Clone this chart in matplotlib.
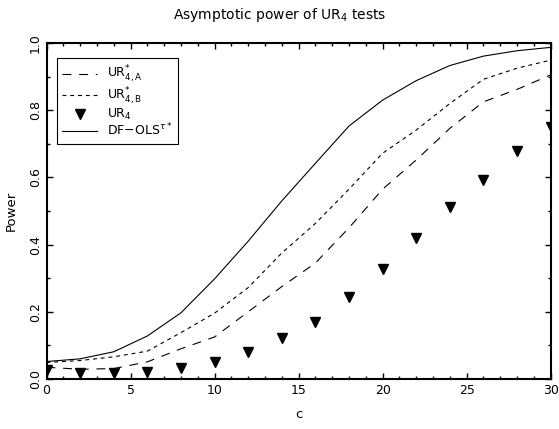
import matplotlib
matplotlib.use("Agg")
import matplotlib.pyplot as plt
from matplotlib.ticker import MultipleLocator, FormatStrFormatter

plt.rcParams['font.family'] = ['DejaVu Sans']
plt.rcParams['mathtext.fontset'] = 'dejavusans'

c = [0, 2, 4, 6, 8, 10, 12, 14, 16, 18, 20, 22, 24, 26, 28, 30]
ur4a = [0.035, 0.029, 0.031, 0.051, 0.090, 0.125, 0.200, 0.275, 0.345, 0.450, 0.565, 0.652, 0.746, 0.825, 0.862, 0.905]
ur4b = [0.049, 0.055, 0.066, 0.083, 0.138, 0.196, 0.272, 0.375, 0.463, 0.565, 0.672, 0.741, 0.820, 0.892, 0.925, 0.949]
ur4 = [0.028, 0.019, 0.019, 0.022, 0.034, 0.052, 0.081, 0.123, 0.170, 0.244, 0.327, 0.420, 0.511, 0.592, 0.678, 0.751]
dfols = [0.052, 0.060, 0.081, 0.128, 0.197, 0.298, 0.410, 0.530, 0.642, 0.753, 0.830, 0.888, 0.933, 0.961, 0.977, 0.987]

fig = plt.figure(figsize=(5.59, 4.29), dpi=100)
ax = fig.add_axes([46.5/559, 1-379/429, 504.2/559, 336/429])

lw = 0.8
ax.plot(c, ur4a, color='black', lw=lw, dashes=(8, 7), label=r'UR$^{*}_{4,\mathrm{A}}$')
ax.plot(c, ur4b, color='black', lw=lw, dashes=(3.5, 3.5), label=r'UR$^{*}_{4,\mathrm{B}}$')
ax.plot(c, ur4, linestyle='none', marker='v', color='black', markersize=7, label=r'UR$_4$')
ax.plot(c, dfols, color='black', lw=lw, label=r'DF$-$OLS$^{\tau*}$')

ax.set_xlim(0, 30)
ax.set_ylim(0, 1)
ax.xaxis.set_major_locator(MultipleLocator(5))
ax.xaxis.set_minor_locator(MultipleLocator(1))
ax.yaxis.set_major_locator(MultipleLocator(0.2))
ax.yaxis.set_minor_locator(MultipleLocator(0.1))
ax.yaxis.set_major_formatter(FormatStrFormatter('%.1f'))
ax.tick_params(which='both', direction='in', top=True, right=True, labelsize=9, width=1)
ax.tick_params(which='major', length=4)
ax.tick_params(which='minor', length=2.2)
ax.tick_params(axis='y', labelrotation=90)
for lab in ax.get_yticklabels():
    lab.set_va('center')
for s in ax.spines.values():
    s.set_linewidth(1.5)

fig.text(0.5, 1 - 15/429, r'Asymptotic power of UR$_4$ tests', fontsize=10,
         ha='center', va='center')
ax.set_xlabel('c', fontsize=9.5, labelpad=8)
ax.set_ylabel('Power', fontsize=9.5, labelpad=8)

leg = ax.legend(loc='upper left', bbox_to_anchor=(0.020, 0.954), borderaxespad=0,
                fancybox=False, framealpha=1, edgecolor='black', fontsize=9,
                handlelength=2.8, handletextpad=0.8, labelspacing=0.0, borderpad=0.45)
leg.get_frame().set_linewidth(0.8)

fig.savefig('out.png', dpi=100)
